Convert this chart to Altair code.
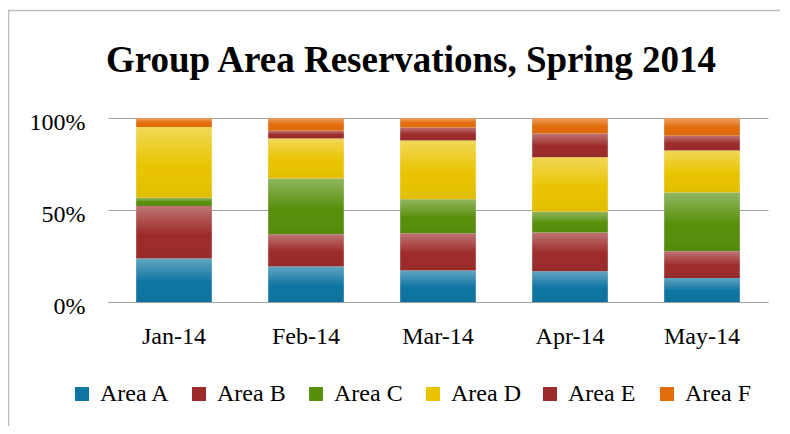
import altair as alt
import pandas as pd

months = ["Jan-14", "Feb-14", "Mar-14", "Apr-14", "May-14"]
areas = ["Area A", "Area B", "Area C", "Area D", "Area E", "Area F"]
area_a = [23.6, 19.3, 17.1, 16.7, 13.1]
area_b = [28.6, 17.5, 20.2, 21.1, 14.5]
area_c = [4.4, 30.4, 18.5, 11.3, 31.9]
area_d = [38.5, 21.8, 32.0, 29.6, 22.9]
area_e = [0.0, 4.2, 7.1, 12.9, 8.0]
area_f = [4.9, 6.9, 5.1, 8.4, 9.6]
colors = ["#0E74A2", "#9C2B2A", "#578F0B", "#E9C300", "#9C2B2A", "#E36C0A"]

series = [area_a, area_b, area_c, area_d, area_e, area_f]
rows = []
for i, (name, vals) in enumerate(zip(areas, series)):
    for m, v in zip(months, vals):
        rows.append({"month": m, "area": name, "value": v, "idx": i})
df = pd.DataFrame(rows)

FONT = "Liberation Serif"

x = alt.X(
    "month:N",
    sort=months,
    scale=alt.Scale(paddingInner=0.427, paddingOuter=0.2135),
    axis=alt.Axis(
        title=None, labelAngle=0, ticks=False, domain=True, domainColor="#A0A0A0",
        domainWidth=1, grid=False, labelFont=FONT, labelFontSize=24,
        labelColor="#000000", labelPadding=22,
    ),
)
y = alt.Y(
    "value:Q",
    stack="normalize",
    axis=alt.Axis(
        title=None, values=[0, 0.5, 1], format=".0%", ticks=False, domain=False,
        grid=True, gridColor="#A0A0A0", gridWidth=1, labelFont=FONT,
        labelFontSize=24, labelColor="#000000", labelPadding=23, labelOffset=4,
    ),
)
order = alt.Order("idx:Q", sort="ascending")

bars = alt.Chart(df).mark_bar().encode(
    x=x,
    y=y,
    color=alt.Color(
        "area:N",
        scale=alt.Scale(domain=areas, range=colors),
        legend=alt.Legend(
            title=None, orient="none", legendX=-38, legendY=264,
            direction="horizontal", columns=6, gridAlign="all", columnPadding=17,
            symbolType="square", symbolSize=196, symbolStrokeWidth=0,
            labelFont=FONT, labelFontSize=24, labelColor="#000000", labelOffset=6,
        ),
    ),
    order=order,
)

gloss = alt.Chart(df).mark_bar(
    fill=alt.Gradient(
        gradient="linear",
        stops=[
            alt.GradientStop(color="rgba(255,255,255,0.35)", offset=0),
            alt.GradientStop(color="rgba(255,255,255,0.0)", offset=0.55),
            alt.GradientStop(color="rgba(0,0,0,0.04)", offset=1),
        ],
        x1=0, x2=0, y1=0, y2=1,
    )
).encode(x=x, y=y, detail="area:N", order=order)

frame = pd.DataFrame({"k": [0]})
left_border = alt.Chart(frame).mark_rule(color="#BDBDBD", strokeWidth=1.5).encode(
    x=alt.value(-99.5), y=alt.value(-108), y2=alt.value(320)
)
top_border = alt.Chart(frame).mark_rule(color="#BDBDBD", strokeWidth=1.5).encode(
    x=alt.value(-100), x2=alt.value(680), y=alt.value(-107.5)
)

chart = alt.layer(bars, gloss, left_border, top_border).properties(
    width=660,
    height=184,
    padding={"left": 100, "top": 110, "right": 12, "bottom": 124},
    autosize=alt.AutoSizeParams(type="none"),
    title=alt.TitleParams(
        "Group Area Reservations, Spring 2014", font=FONT, fontSize=37,
        fontWeight="bold", color="#000000", anchor="middle", dx=-27,
        baseline="alphabetic", offset=-100,
    ),
).configure_view(stroke=None)

chart.save("out.html", embed_options={"renderer": "svg", "actions": False})
